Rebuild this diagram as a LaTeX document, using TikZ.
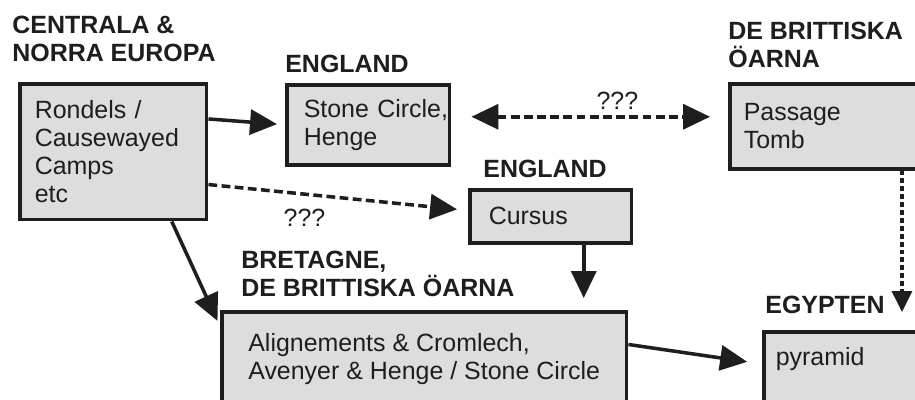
\documentclass[tikz,border=0pt]{standalone}
\usepackage{fontspec}
\setmainfont{Liberation Sans}
\usepackage{tikz}
\usetikzlibrary{arrows.meta, positioning, calc}
\definecolor{boxgray}{RGB}{221,221,221}
\definecolor{inkgray}{RGB}{30,30,30}
\newcommand{\diafont}{\fontsize{14.2}{16}\selectfont}

\begin{document}
\begin{tikzpicture}[
    x=0.02cm, y=-0.02cm,
    >={Triangle[length=0.54cm, width=0.5cm]},
    box/.style={draw=inkgray, fill=boxgray, line width=2pt, anchor=north west,
                align=left, inner xsep=0.3cm, inner ysep=0.2cm, font=\diafont, text=inkgray},
    region/.style={anchor=north west, inner sep=0pt, align=left, font=\diafont\bfseries, text=inkgray},
    arr/.style={->, line width=2pt, draw=inkgray},
    dasharr/.style={arr, dash pattern=on 5pt off 2.5pt},
    dotarr/.style={-{Triangle[length=0.42cm, width=0.4cm]}, line width=2pt, draw=inkgray,
                   dash pattern=on 2.8pt off 1.7pt},
    qlabel/.style={font=\diafont, text=inkgray},
]
\useasboundingbox (0,0) rectangle (915,399);
\clip (0,0) rectangle (915,399);
\fill[white] (0,0) rectangle (915,399);

% regions
\node[region] (central) at (12,16) {CENTRALA \&\\NORRA EUROPA};
\node[region] (englandA) at (285,55) {ENGLAND};
\node[region] (britA) at (728,22) {DE BRITTISKA\\ÖARNA};
\node[region] (englandB) at (483,159.5) {ENGLAND};
\node[region] (bretagne) at (241,250.5) {BRETAGNE,\\DE BRITTISKA ÖARNA};
\node[region] (egypt) at (765,295.5) {EGYPTEN};

% monuments
\node[box, text width=3.14cm, minimum height=2.72cm] (rondels) at (18,82) {Rondels /\\Causewayed\\Camps\\etc};
\node[box, inner xsep=0.34cm, text width=2.58cm, minimum height=1.6cm] (stone) at (285,83) {\mbox{Stone Circle,}\\Henge};
\node[box, inner xsep=0.28cm, text width=4.04cm, minimum height=1.7cm] (tomb) at (728,82) {Passage\\Tomb};
\node[box, inner xsep=0.38cm, text width=2.48cm, minimum height=1.06cm] (cursus) at (468,188) {Cursus};
\node[box, minimum width=8.1cm, minimum height=1.88cm] (align) at (220,310) {Alignements \& Cromlech,\\Avenyer \& Henge / Stone Circle};
\node[box, inner xsep=0.24cm, text width=3.52cm, text height=0.48cm, text depth=2cm] (pyramid) at (762,330) {pyramid};

% links
\draw[arr, shorten >=0.16cm] (rondels.19) -- (stone.west);
\draw[dasharr, <->, shorten <=0.4cm, shorten >=0.36cm] ([yshift=0.16cm]stone.east) -- ([yshift=0.16cm]stone.east -| tomb.west)
    node[qlabel, pos=0.6, above] {???};
\draw[dasharr, shorten >=0.22cm] (rondels.-19) -- (cursus.176)
    node[qlabel, pos=0.37, below=0.14cm] {???};
\draw[arr, shorten >=0.12cm] (rondels.-50) -- (align.171);
\draw[arr, shorten >=0.24cm] ([xshift=0.66cm]cursus.south) -- ([xshift=0.66cm]cursus.south |- align.north);
\draw[arr, shorten >=0.3cm] (align.4) -- ([yshift=-0.68cm]pyramid.north west);
\draw[dotarr, shorten >=0.36cm] ([xshift=3.48cm]tomb.south west) -- ([xshift=3.48cm]tomb.south west |- pyramid.north);
\end{tikzpicture}
\end{document}
